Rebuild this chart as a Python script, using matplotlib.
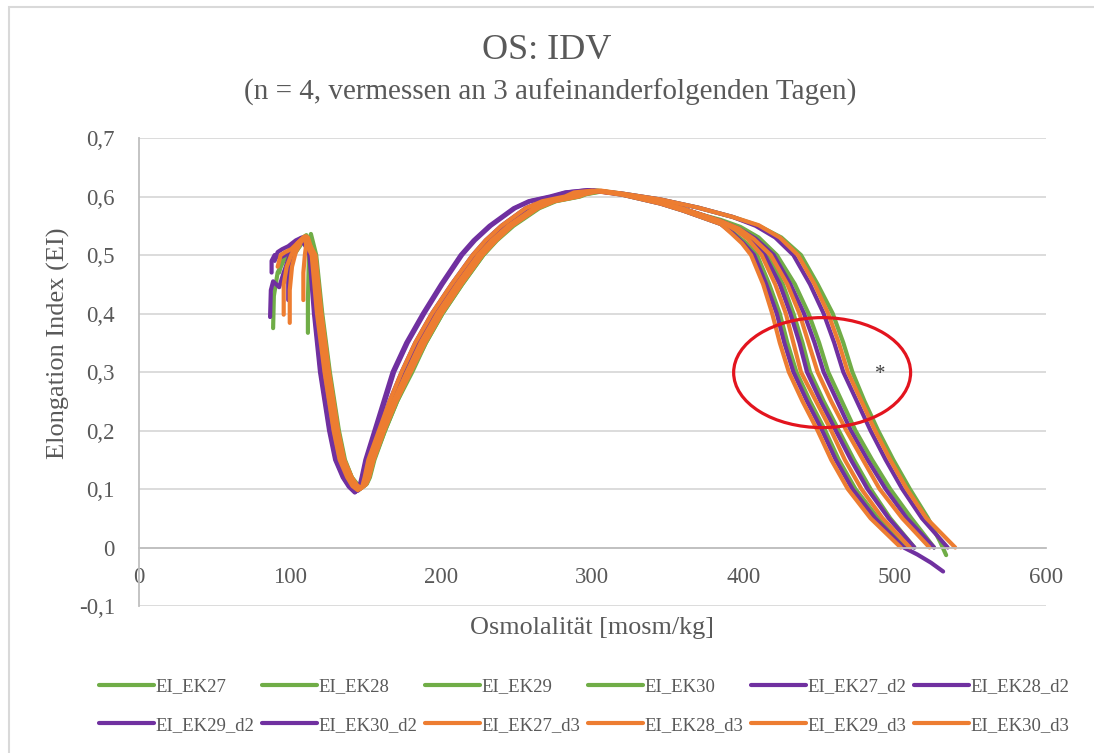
import matplotlib
matplotlib.use("Agg")
import matplotlib.pyplot as plt
from matplotlib.patches import Ellipse, Rectangle

plt.rcParams['font.family'] = ['Liberation Serif', 'DejaVu Serif']

GREEN = '#70AD47'
PURPLE = '#7030A0'
ORANGE = '#ED7D31'
TXT = '#595959'

# osmoscan curves, digitised (osmolality mOsm/kg, elongation index)
ek27_x = [89, 89.5, 92, 96, 101, 106, 111, 117, 121, 126, 132, 136, 141, 144, 147.5, 150.5,
          152.5, 155.5, 163, 171, 181, 190, 201, 214, 228, 237, 248, 265, 276, 292, 296, 307,
          320, 345, 370, 393, 410, 425, 438, 449, 459, 466, 472, 480, 489, 499, 510, 522, 530, 534]
ek27_y = [0.375, 0.43, 0.47, 0.49, 0.51, 0.525, 0.534, 0.5, 0.4, 0.3, 0.2, 0.15, 0.12, 0.108, 0.102, 0.108,
          0.12, 0.15, 0.2, 0.25, 0.3, 0.35, 0.4, 0.45, 0.5, 0.525, 0.55, 0.58, 0.592, 0.6, 0.604, 0.609,
          0.605, 0.595, 0.581, 0.565, 0.55, 0.53, 0.5, 0.45, 0.4, 0.35, 0.3, 0.25, 0.2, 0.15, 0.1, 0.05, 0.01, -0.013]

ek28_x = [112, 112, 112.5, 113, 114, 117.5, 121.5, 126.5, 132.5, 136.5, 141, 144.5, 148, 151,
          153, 156, 163, 171, 180, 190, 201, 214, 228, 236.5, 247, 264, 275, 291, 295, 306,
          320, 345, 360, 372, 385, 398, 410, 422, 434, 443, 450, 456, 465, 474, 485, 497, 511, 526]
ek28_y = [0.367, 0.42, 0.48, 0.52, 0.536, 0.5, 0.4, 0.3, 0.2, 0.15, 0.12, 0.109, 0.103, 0.109,
          0.12, 0.15, 0.2, 0.25, 0.3, 0.35, 0.4, 0.45, 0.5, 0.525, 0.55, 0.58, 0.592, 0.6, 0.604, 0.609,
          0.604, 0.59, 0.579, 0.569, 0.56, 0.548, 0.53, 0.5, 0.45, 0.4, 0.35, 0.3, 0.25, 0.2, 0.15, 0.1, 0.05, 0.0]

ek29_x = [97, 99, 101, 104, 108, 111, 116, 120, 125, 131, 135, 140, 143, 146, 149,
          151, 154, 161, 169, 178, 187, 198, 211, 225, 234, 245, 262, 273, 288, 293, 304,
          320, 345, 360, 372, 385, 396, 406, 416, 426, 433, 439, 444, 453, 463, 473, 484, 497, 513]
ek29_y = [0.47, 0.48, 0.49, 0.505, 0.52, 0.53, 0.5, 0.4, 0.3, 0.2, 0.15, 0.12, 0.107, 0.1, 0.107,
          0.12, 0.15, 0.2, 0.25, 0.3, 0.35, 0.4, 0.45, 0.5, 0.525, 0.55, 0.58, 0.592, 0.6, 0.607, 0.61,
          0.604, 0.59, 0.579, 0.569, 0.557, 0.543, 0.525, 0.5, 0.45, 0.4, 0.35, 0.3, 0.25, 0.2, 0.15, 0.1, 0.05, 0.0]

ek30_x = [93, 95, 99, 104, 109, 115.5, 119.5, 124.5, 130.5, 134.5, 139.5, 142.5, 146, 149,
          150.5, 153.5, 160.5, 168, 177, 186, 197, 210, 224, 233, 244, 261, 272, 287, 292, 303,
          320, 345, 360, 372, 385, 394, 402, 409, 417, 424, 429, 435, 444, 454, 463, 474, 489, 507]
ek30_y = [0.47, 0.49, 0.5, 0.515, 0.528, 0.5, 0.4, 0.3, 0.2, 0.15, 0.12, 0.106, 0.099, 0.106,
          0.12, 0.15, 0.2, 0.25, 0.3, 0.35, 0.4, 0.45, 0.5, 0.525, 0.55, 0.58, 0.592, 0.6, 0.607, 0.61,
          0.603, 0.588, 0.576, 0.565, 0.553, 0.537, 0.52, 0.5, 0.45, 0.4, 0.35, 0.3, 0.25, 0.2, 0.15, 0.1, 0.05, 0.0]

ek27_d2_x = [87, 87.5, 89, 91, 93, 96, 100, 105, 109, 113, 116, 120, 126, 130, 135, 139, 143, 146,
             147.5, 150, 156, 162, 168, 177, 188, 200, 213, 221.5, 232, 248, 258, 272, 282, 297,
             320, 345, 360, 372, 385, 397, 408, 420, 431, 440, 447, 453, 462, 471, 482, 494, 508, 526]
ek27_d2_y = [0.394, 0.44, 0.455, 0.45, 0.445, 0.47, 0.5, 0.52, 0.53, 0.5, 0.4, 0.3, 0.2, 0.15, 0.12, 0.104, 0.094, 0.104,
             0.12, 0.15, 0.2, 0.25, 0.3, 0.35, 0.4, 0.45, 0.5, 0.525, 0.55, 0.58, 0.592, 0.6, 0.607, 0.611,
             0.604, 0.59, 0.579, 0.569, 0.558, 0.545, 0.528, 0.5, 0.45, 0.4, 0.35, 0.3, 0.25, 0.2, 0.15, 0.1, 0.05, 0.0]

ek28_d2_x = [88, 88, 90, 93, 97, 102, 107, 115, 118, 123, 129, 133, 138, 141.5, 145, 148,
             149.5, 152, 159, 166, 174, 183, 194, 207, 221, 229.5, 240, 256, 267, 282, 289, 301,
             320, 345, 370, 393, 408, 421, 433, 444, 453, 460, 466, 475, 484, 494, 505, 518, 535]
ek28_d2_y = [0.47, 0.49, 0.5, 0.495, 0.5, 0.515, 0.528, 0.5, 0.4, 0.3, 0.2, 0.15, 0.12, 0.105, 0.097, 0.105,
             0.12, 0.15, 0.2, 0.25, 0.3, 0.35, 0.4, 0.45, 0.5, 0.525, 0.55, 0.58, 0.592, 0.6, 0.607, 0.61,
             0.605, 0.595, 0.581, 0.565, 0.55, 0.53, 0.5, 0.45, 0.4, 0.35, 0.3, 0.25, 0.2, 0.15, 0.1, 0.05, 0.0]

ek29_d2_x = [99, 99, 100, 102, 105, 108, 113.5, 116.5, 120.5, 126.5, 130.5, 135.5, 139.5, 143.5, 146.5,
             148, 150.5, 157, 163, 169, 178, 189, 201, 214, 222.5, 233, 249, 259, 274, 283, 298,
             320, 345, 360, 372, 385, 396, 405, 414, 424, 431, 437, 442, 451, 461, 471, 482, 496, 513]
ek29_d2_y = [0.423, 0.46, 0.48, 0.5, 0.515, 0.527, 0.5, 0.4, 0.3, 0.2, 0.15, 0.12, 0.104, 0.095, 0.104,
             0.12, 0.15, 0.2, 0.25, 0.3, 0.35, 0.4, 0.45, 0.5, 0.525, 0.55, 0.58, 0.592, 0.6, 0.607, 0.611,
             0.604, 0.59, 0.579, 0.569, 0.557, 0.543, 0.525, 0.5, 0.45, 0.4, 0.35, 0.3, 0.25, 0.2, 0.15, 0.1, 0.05, 0.0]

ek30_d2_x = [90, 92, 95, 99, 104, 108, 115, 118.5, 123.5, 129.5, 133.5, 138.5, 141.5, 145, 148,
             150, 152.5, 159.5, 166.5, 174.5, 184, 195, 208, 222, 230.5, 241, 257, 268, 283, 289, 301,
             320, 345, 360, 372, 385, 393, 400, 407, 415, 422, 427, 433, 442, 452, 461, 472, 487, 506,
             515, 524, 532]
ek30_d2_y = [0.49, 0.505, 0.51, 0.515, 0.525, 0.53, 0.5, 0.4, 0.3, 0.2, 0.15, 0.12, 0.105, 0.098, 0.105,
             0.12, 0.15, 0.2, 0.25, 0.3, 0.35, 0.4, 0.45, 0.5, 0.525, 0.55, 0.58, 0.592, 0.6, 0.607, 0.61,
             0.603, 0.588, 0.576, 0.565, 0.553, 0.537, 0.52, 0.5, 0.45, 0.4, 0.35, 0.3, 0.25, 0.2, 0.15, 0.1, 0.05, 0.0,
             -0.012, -0.026, -0.041]

ek27_d3_x = [96, 96, 98, 101, 105, 110, 117, 121, 126, 132, 136, 141, 144, 147, 150.5,
             152.5, 155.5, 162.5, 170.5, 180, 189.5, 200.5, 213.5, 227.5, 236.5, 247, 264, 275, 291, 295, 306,
             320, 345, 370, 393, 410, 424, 436, 447, 456, 463, 469, 478, 487, 497, 508, 521, 540]
ek27_d3_y = [0.398, 0.45, 0.48, 0.5, 0.52, 0.532, 0.5, 0.4, 0.3, 0.2, 0.15, 0.12, 0.108, 0.101, 0.108,
             0.12, 0.15, 0.2, 0.25, 0.3, 0.35, 0.4, 0.45, 0.5, 0.525, 0.55, 0.58, 0.592, 0.6, 0.604, 0.61,
             0.605, 0.595, 0.581, 0.565, 0.551, 0.53, 0.5, 0.45, 0.4, 0.35, 0.3, 0.25, 0.2, 0.15, 0.1, 0.05, 0.0]

ek28_d3_x = [100, 100, 101.5, 104, 108, 111, 116, 120, 125, 131, 135, 140, 143, 146.5, 149.5,
             151.5, 154, 161.5, 169.5, 178.5, 188, 199, 212, 226, 235, 246, 263, 274, 289, 294, 305,
             320, 345, 360, 372, 385, 397, 407, 418, 429, 437, 443, 449, 458, 468, 479, 490, 505, 523]
ek28_d3_y = [0.384, 0.44, 0.48, 0.505, 0.525, 0.532, 0.5, 0.4, 0.3, 0.2, 0.15, 0.12, 0.107, 0.1, 0.107,
             0.12, 0.15, 0.2, 0.25, 0.3, 0.35, 0.4, 0.45, 0.5, 0.525, 0.55, 0.58, 0.592, 0.6, 0.607, 0.61,
             0.604, 0.59, 0.579, 0.569, 0.558, 0.545, 0.527, 0.5, 0.45, 0.4, 0.35, 0.3, 0.25, 0.2, 0.15, 0.1, 0.05, 0.0]

ek29_d3_x = [109, 109, 110, 111, 112, 115.5, 119.5, 124.5, 130.5, 134.5, 139.5, 142.5, 146, 149,
             151, 153.5, 161, 168.5, 177.5, 186.5, 197.5, 210.5, 224.5, 233.5, 244.5, 261.5, 272.5, 287.5, 292.5, 303,
             320, 345, 360, 372, 385, 395, 403, 412, 421, 428, 433, 438, 448, 458, 467, 478, 492, 510]
ek29_d3_y = [0.423, 0.47, 0.5, 0.52, 0.53, 0.5, 0.4, 0.3, 0.2, 0.15, 0.12, 0.107, 0.1, 0.107,
             0.12, 0.15, 0.2, 0.25, 0.3, 0.35, 0.4, 0.45, 0.5, 0.525, 0.55, 0.58, 0.592, 0.6, 0.607, 0.61,
             0.604, 0.59, 0.579, 0.569, 0.557, 0.543, 0.527, 0.5, 0.45, 0.4, 0.35, 0.3, 0.25, 0.2, 0.15, 0.1, 0.05, 0.0]

ek30_d3_x = [92, 94, 97, 101, 105, 109, 114.5, 118, 123, 129, 133, 138, 141.5, 145, 148,
             149.5, 152, 159, 166, 174, 183, 194, 207, 221, 229.5, 240, 256, 267, 282, 288, 300,
             320, 345, 360, 372, 385, 392, 399, 405, 413, 419, 424, 430, 439, 449, 458, 469, 484, 504]
ek30_d3_y = [0.48, 0.5, 0.505, 0.51, 0.52, 0.53, 0.5, 0.4, 0.3, 0.2, 0.15, 0.12, 0.105, 0.098, 0.105,
             0.12, 0.15, 0.2, 0.25, 0.3, 0.35, 0.4, 0.45, 0.5, 0.525, 0.55, 0.58, 0.592, 0.6, 0.607, 0.61,
             0.603, 0.588, 0.576, 0.565, 0.553, 0.537, 0.52, 0.5, 0.45, 0.4, 0.35, 0.3, 0.25, 0.2, 0.15, 0.1, 0.05, 0.0]

series = [
    ('EI_EK27', ek27_x, ek27_y, GREEN),
    ('EI_EK28', ek28_x, ek28_y, GREEN),
    ('EI_EK29', ek29_x, ek29_y, GREEN),
    ('EI_EK30', ek30_x, ek30_y, GREEN),
    ('EI_EK27_d2', ek27_d2_x, ek27_d2_y, PURPLE),
    ('EI_EK28_d2', ek28_d2_x, ek28_d2_y, PURPLE),
    ('EI_EK29_d2', ek29_d2_x, ek29_d2_y, PURPLE),
    ('EI_EK30_d2', ek30_d2_x, ek30_d2_y, PURPLE),
    ('EI_EK27_d3', ek27_d3_x, ek27_d3_y, ORANGE),
    ('EI_EK28_d3', ek28_d3_x, ek28_d3_y, ORANGE),
    ('EI_EK29_d3', ek29_d3_x, ek29_d3_y, ORANGE),
    ('EI_EK30_d3', ek30_d3_x, ek30_d3_y, ORANGE),
]

x_ticks = [0, 100, 200, 300, 400, 500, 600]
y_ticks = [-0.1, 0, 0.1, 0.2, 0.3, 0.4, 0.5, 0.6, 0.7]
y_ticklabels = ['-0,1', '0', '0,1', '0,2', '0,3', '0,4', '0,5', '0,6', '0,7']

fig = plt.figure(figsize=(10.94, 7.53), dpi=100)
ax = fig.add_axes([0.1266, 0.1952, 0.8295, 0.6215])

handles = []
for name, xs, ys, col in series:
    h, = ax.plot(xs, ys, color=col, lw=3.0, solid_capstyle='round',
                 solid_joinstyle='round', label=name)
    handles.append(h)

ax.set_xlim(0, 600)
ax.set_ylim(-0.1, 0.7)
ax.set_xticks(x_ticks)
ax.set_xticklabels([str(v) for v in x_ticks])
ax.set_yticks(y_ticks)
ax.set_yticklabels(y_ticklabels)
ax.grid(axis='y', color='#D9D9D9', lw=1.3)
ax.set_axisbelow(True)
for s in ['top', 'right']:
    ax.spines[s].set_visible(False)
ax.spines['bottom'].set_position(('data', 0))
ax.spines['bottom'].set_color('#BFBFBF')
ax.spines['bottom'].set_linewidth(1.3)
ax.spines['left'].set_color('#BFBFBF')
ax.spines['left'].set_linewidth(1.3)
ax.tick_params(length=0, labelsize=16.5, colors=TXT)
ax.tick_params(axis='x', pad=14)
ax.tick_params(axis='y', pad=17)

ax.set_xlabel('Osmolalität [mosm/kg]', fontsize=18.8, color=TXT, va='center')
ax.xaxis.set_label_coords(0.5, -0.048)
ax.set_ylabel('Elongation Index (EI)', fontsize=19, color=TXT, va='center')
ax.yaxis.set_label_coords(-0.0878, 0.562)

fig.text(0.5, 0.933, 'OS: IDV', ha='center', va='center', fontsize=26, color=TXT)
fig.text(0.503, 0.877, '(n = 4, vermessen an 3 aufeinanderfolgenden Tagen)',
         ha='center', va='center', fontsize=21, color=TXT)

# marked region on the falling flank
ax.add_patch(Ellipse((452, 0.299), 117, 0.188, fill=False, ec='#E3141E', lw=2.3, zorder=5))
ax.text(490.6, 0.295, '*', fontsize=15, color='#404040', ha='center', va='center')

order = [0, 6, 1, 7, 2, 8, 3, 9, 4, 10, 5, 11]
leg = fig.legend([handles[i] for i in order], [series[i][0] for i in order],
                 loc='center', bbox_to_anchor=(0.534, 0.0624), ncol=6, frameon=False,
                 fontsize=13.5, handlelength=2.9, handletextpad=0.1,
                 columnspacing=0.42, labelspacing=1.15)
for t in leg.get_texts():
    t.set_color(TXT)
for lh in leg.get_lines():
    lh.set_linewidth(3)

fig.patches.append(Rectangle((9 / 1094, -0.05), 1.2, 1 - 7 / 753 + 0.05,
                             transform=fig.transFigure, fill=False,
                             ec='#D9D9D9', lw=1.5))

fig.savefig('out.png', dpi=100)
